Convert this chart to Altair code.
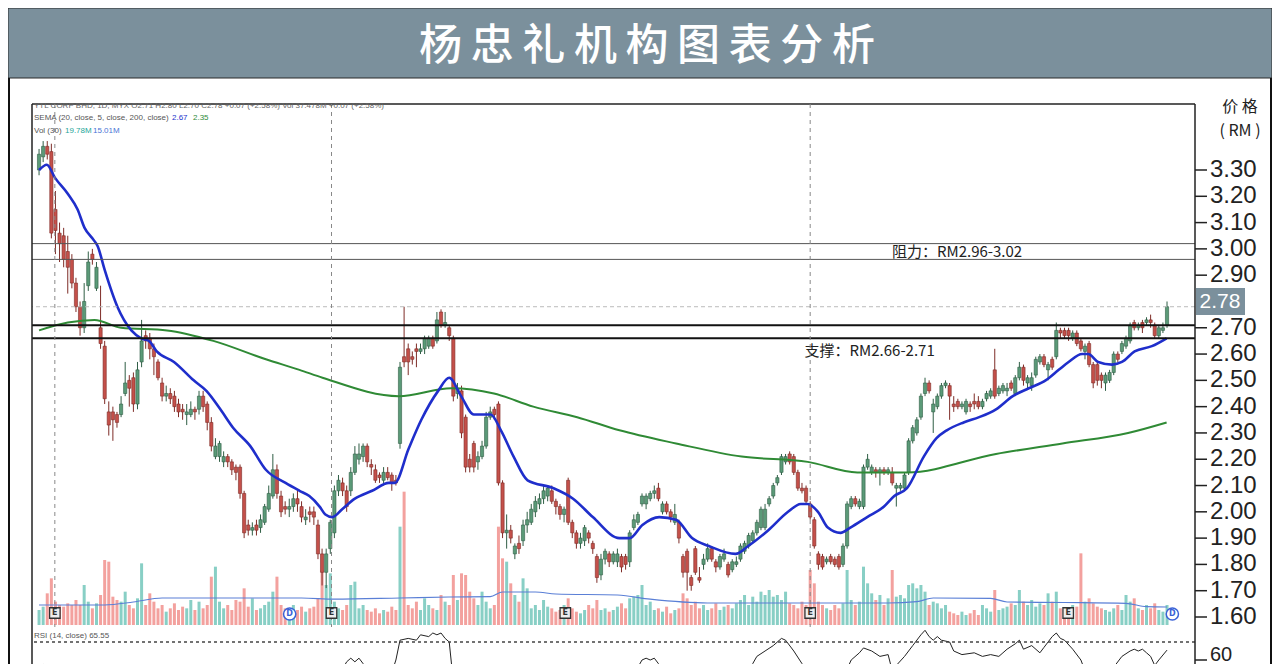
import altair as alt
import pandas as pd

# ---------------- data ----------------
title_text = "杨忠礼机构图表分析"
# 2.80 is hidden under the last-price box in the reference, so it is not listed
price_ticks = [1.6, 1.7, 1.8, 1.9, 2.0, 2.1, 2.2, 2.3, 2.4, 2.5, 2.6, 2.7, 2.9, 3.0, 3.1, 3.2, 3.3]
resistance_levels = [3.02, 2.96]
support_levels = [2.71, 2.66]
last_price = [2.78]

opens = [3.30,3.35,3.39,3.37,3.15,3.06,3.05,2.99,2.96,2.87,
         2.78,2.70,2.86,2.98,2.85,2.70,2.63,2.38,2.38,2.37,
         2.37,2.45,2.50,2.51,2.41,2.57,2.67,2.66,2.62,2.57,
         2.49,2.44,2.45,2.44,2.41,2.39,2.37,2.37,2.39,2.39,
         2.44,2.41,2.34,2.21,2.21,2.19,2.21,2.19,2.17,2.17,
         2.07,1.95,1.93,1.95,1.94,1.96,2.01,2.06,2.16,2.06,
         2.02,2.01,2.02,2.05,2.02,1.97,2.00,2.00,1.95,1.84,
         1.77,1.86,1.92,2.08,2.11,2.08,2.08,2.15,2.20,2.21,
         2.25,2.18,2.16,2.14,2.12,2.15,2.14,2.12,2.26,2.59,
         2.62,2.59,2.62,2.61,2.62,2.63,2.66,2.65,2.76,2.71,
         2.70,2.66,2.45,2.46,2.36,2.20,2.26,2.19,2.21,2.25,
         2.36,2.39,2.41,2.11,1.92,1.93,1.84,1.88,1.89,1.95,
         1.96,2.00,2.03,2.05,2.06,2.08,2.04,2.02,1.99,2.12,
         1.96,1.92,1.88,1.89,1.92,1.88,1.83,1.76,1.82,1.84,
         1.81,1.81,1.83,1.83,1.81,1.94,1.96,2.03,2.03,2.05,
         2.07,2.09,2.00,2.03,2.00,1.96,1.96,1.83,1.85,1.75,
         1.86,1.75,1.80,1.82,1.86,1.81,1.79,1.82,1.80,1.78,
         1.80,1.82,1.85,1.87,1.89,1.92,1.94,1.94,2.03,2.06,
         2.11,2.15,2.19,2.22,2.21,2.15,2.09,2.09,2.03,1.97,
         1.84,1.83,1.81,1.83,1.82,1.83,1.80,1.87,2.02,2.05,
         2.02,2.02,2.17,2.15,2.16,2.15,2.16,2.15,2.15,2.09,
         2.09,2.09,2.15,2.27,2.30,2.36,2.45,2.49,2.38,2.40,
         2.44,2.48,2.48,2.41,2.42,2.40,2.38,2.41,2.42,2.42,
         2.40,2.43,2.44,2.54,2.45,2.46,2.46,2.49,2.45,2.51,
         2.55,2.49,2.48,2.52,2.57,2.59,2.54,2.58,2.59,2.69,
         2.69,2.69,2.66,2.68,2.65,2.61,2.64,2.56,2.56,2.52,
         2.49,2.50,2.53,2.60,2.61,2.63,2.65,2.72,2.70,2.72,
         2.72,2.73,2.71,2.67,2.69,2.71]

highs = [3.38,3.41,3.41,3.40,3.22,3.10,3.08,3.05,2.98,2.89,
         2.80,2.87,2.99,3.00,2.95,2.86,2.65,2.42,2.40,2.38,
         2.44,2.57,2.52,2.53,2.57,2.73,2.69,2.68,2.64,2.58,
         2.51,2.48,2.47,2.46,2.43,2.41,2.41,2.42,2.40,2.46,
         2.46,2.42,2.36,2.28,2.27,2.23,2.22,2.20,2.18,2.18,
         2.08,1.97,1.96,1.97,1.99,2.03,2.10,2.22,2.18,2.08,
         2.04,2.05,2.07,2.08,2.04,2.01,2.02,2.02,1.97,1.86,
         1.86,1.97,2.10,2.14,2.13,2.10,2.17,2.25,2.26,2.26,
         2.26,2.20,2.18,2.15,2.17,2.17,2.15,2.14,2.57,2.78,
         2.64,2.61,2.64,2.64,2.67,2.67,2.67,2.76,2.77,2.76,
         2.71,2.67,2.49,2.48,2.37,2.22,2.27,2.23,2.27,2.38,
         2.40,2.40,2.42,2.12,1.99,1.95,1.88,1.91,1.97,2.00,
         2.03,2.06,2.07,2.10,2.10,2.10,2.05,2.03,2.02,2.13,
         1.97,1.93,1.92,1.95,1.93,1.89,1.84,1.84,1.86,1.85,
         1.85,1.86,1.84,1.84,1.93,1.99,2.00,2.07,2.07,2.08,
         2.10,2.11,2.04,2.04,2.01,2.03,1.97,1.84,1.86,1.76,
         1.87,1.79,1.84,1.88,1.87,1.82,1.84,1.86,1.81,1.82,
         1.83,1.88,1.89,1.92,1.93,1.97,2.02,2.03,2.06,2.11,
         2.14,2.22,2.22,2.23,2.22,2.16,2.11,2.10,2.04,1.98,
         1.85,1.84,1.83,1.84,1.83,1.84,1.88,2.04,2.06,2.06,
         2.05,2.18,2.22,2.18,2.17,2.17,2.17,2.17,2.17,2.11,
         2.11,2.15,2.28,2.33,2.36,2.45,2.51,2.50,2.43,2.45,
         2.49,2.50,2.49,2.44,2.43,2.42,2.43,2.42,2.45,2.44,
         2.43,2.46,2.47,2.62,2.48,2.49,2.49,2.50,2.52,2.57,
         2.56,2.52,2.53,2.59,2.60,2.60,2.57,2.59,2.72,2.70,
         2.70,2.70,2.69,2.69,2.66,2.64,2.65,2.57,2.57,2.53,
         2.53,2.54,2.61,2.61,2.65,2.67,2.72,2.73,2.72,2.73,
         2.74,2.75,2.72,2.71,2.72,2.80]

lows = [3.28,3.33,3.34,3.04,2.98,2.95,2.93,2.83,2.85,2.76,
        2.67,2.68,2.84,2.94,2.84,2.62,2.41,2.29,2.27,2.32,
        2.36,2.44,2.40,2.38,2.39,2.55,2.62,2.58,2.52,2.50,
        2.42,2.42,2.41,2.38,2.36,2.35,2.33,2.36,2.35,2.37,
        2.38,2.31,2.23,2.20,2.19,2.17,2.17,2.14,2.12,2.05,
        1.90,1.91,1.91,1.91,1.92,1.95,2.00,2.05,2.05,1.98,
        1.99,1.98,2.00,2.00,1.96,1.95,1.96,1.95,1.82,1.72,
        1.71,1.84,1.90,2.06,2.06,2.00,2.06,2.14,2.18,2.19,
        2.17,2.14,2.11,2.11,2.10,2.12,2.08,2.10,2.24,2.55,
        2.52,2.56,2.55,2.60,2.60,2.62,2.62,2.64,2.70,2.70,
        2.65,2.42,2.43,2.28,2.15,2.15,2.15,2.16,2.20,2.24,
        2.35,2.35,2.10,1.90,1.86,1.88,1.82,1.84,1.87,1.92,
        1.95,1.98,2.01,2.03,2.04,2.03,1.99,1.97,1.96,1.95,
        1.90,1.86,1.86,1.87,1.88,1.84,1.73,1.74,1.80,1.79,
        1.80,1.79,1.77,1.78,1.79,1.93,1.95,2.02,2.01,2.04,
        2.05,2.04,1.99,1.99,1.96,1.95,1.88,1.75,1.70,1.70,
        1.76,1.73,1.78,1.81,1.81,1.77,1.78,1.81,1.75,1.77,
        1.79,1.81,1.84,1.86,1.88,1.91,1.93,1.93,2.02,2.05,
        2.10,2.14,2.18,2.18,2.14,2.08,2.07,2.03,1.97,1.86,
        1.78,1.78,1.80,1.80,1.79,1.78,1.79,1.86,2.01,2.02,
        2.01,2.01,2.16,2.14,2.13,2.10,2.14,2.14,2.10,2.02,
        2.08,2.08,2.14,2.26,2.29,2.35,2.44,2.45,2.30,2.39,
        2.43,2.47,2.35,2.38,2.39,2.39,2.37,2.38,2.39,2.39,
        2.39,2.42,2.43,2.43,2.44,2.45,2.44,2.46,2.44,2.50,
        2.48,2.47,2.46,2.51,2.56,2.55,2.50,2.54,2.58,2.66,
        2.66,2.65,2.65,2.63,2.61,2.58,2.55,2.47,2.48,2.47,
        2.46,2.49,2.52,2.57,2.60,2.62,2.64,2.69,2.69,2.68,
        2.71,2.70,2.66,2.66,2.68,2.70]

closes = [3.36,3.39,3.36,3.06,3.07,3.02,2.96,2.93,2.87,2.78,
          2.70,2.80,2.95,2.96,2.93,2.64,2.43,2.33,2.35,2.34,
          2.41,2.49,2.47,2.41,2.54,2.65,2.65,2.62,2.59,2.51,
          2.44,2.45,2.43,2.40,2.38,2.38,2.38,2.39,2.38,2.44,
          2.40,2.34,2.25,2.25,2.26,2.21,2.19,2.16,2.15,2.07,
          1.92,1.93,1.94,1.93,1.97,2.02,2.07,2.16,2.07,2.00,
          2.01,2.02,2.05,2.03,1.98,1.98,1.99,1.98,1.84,1.77,
          1.84,1.96,2.08,2.12,2.08,2.02,2.15,2.22,2.22,2.25,
          2.19,2.17,2.12,2.13,2.15,2.13,2.11,2.11,2.55,2.57,
          2.57,2.58,2.61,2.62,2.66,2.66,2.63,2.73,2.71,2.72,
          2.67,2.44,2.47,2.30,2.17,2.17,2.17,2.21,2.25,2.36,
          2.38,2.37,2.11,1.92,1.93,1.90,1.87,1.86,1.95,1.97,
          2.01,2.04,2.05,2.08,2.09,2.04,2.02,1.99,2.01,1.96,
          1.92,1.88,1.90,1.94,1.90,1.86,1.75,1.82,1.85,1.81,
          1.84,1.84,1.79,1.80,1.92,1.97,1.99,2.06,2.06,2.07,
          2.08,2.05,2.03,2.00,1.98,1.99,1.90,1.77,1.77,1.72,
          1.77,1.74,1.82,1.86,1.82,1.79,1.83,1.84,1.76,1.81,
          1.81,1.87,1.88,1.91,1.92,1.96,2.01,2.01,2.05,2.10,
          2.13,2.21,2.21,2.19,2.15,2.09,2.08,2.04,1.98,1.87,
          1.80,1.79,1.82,1.81,1.80,1.79,1.87,2.03,2.05,2.03,
          2.04,2.17,2.20,2.17,2.15,2.16,2.15,2.16,2.11,2.10,
          2.10,2.14,2.27,2.32,2.35,2.44,2.49,2.46,2.41,2.44,
          2.48,2.49,2.44,2.40,2.40,2.41,2.42,2.40,2.41,2.40,
          2.42,2.45,2.46,2.44,2.47,2.48,2.47,2.47,2.51,2.55,
          2.50,2.51,2.51,2.58,2.59,2.56,2.56,2.55,2.69,2.68,
          2.67,2.67,2.68,2.64,2.62,2.63,2.56,2.49,2.50,2.50,
          2.52,2.53,2.60,2.58,2.64,2.66,2.71,2.70,2.71,2.70,
          2.73,2.72,2.67,2.70,2.70,2.78]

volumes = [9,11,19,28,14,12,11,13,12,15,
           12,24,14,10,13,18,39,38,17,15,
           14,20,12,10,16,37,12,19,14,10,
           12,8,10,13,9,11,10,15,9,14,
           10,12,29,35,14,10,12,9,15,14,
           22,11,16,9,10,12,14,20,29,12,
           10,8,12,9,11,8,10,11,16,33,
           24,31,14,10,9,12,24,26,10,12,
           9,8,10,7,9,8,11,9,59,80,
           12,10,14,9,16,12,10,9,18,14,
           12,30,15,31,30,20,16,12,20,14,
           10,12,59,40,38,25,18,14,28,22,
           10,12,9,15,11,10,8,9,12,16,
           10,8,7,9,12,10,15,9,10,8,
           9,11,13,10,16,17,18,24,12,14,
           9,10,8,11,7,9,10,19,16,12,
           14,10,12,9,10,13,9,11,12,10,
           13,15,18,12,17,14,20,18,21,17,
           18,15,20,13,12,10,14,12,33,25,
           14,12,10,9,12,10,13,33,15,12,
           14,35,25,19,15,18,12,16,33,17,
           18,16,24,25,22,24,20,12,14,13,
           10,12,8,7,6,8,6,7,9,6,
           12,10,8,21,9,10,11,13,12,21,
           14,12,15,11,13,12,19,14,20,10,
           9,8,12,11,43,14,16,13,11,10,
           9,8,10,12,9,18,14,16,10,9,
           12,10,13,9,8,12]

ma20_idx = [0,1.9,3.9,7,9.4,11.1,13,14.3,16,19.1,
            22.5,24.9,26.8,28.7,32.9,37.7,40.8,44.2,47.3,51.5,
            55.3,60.1,63.5,65.9,68.4,69.8,71.5,73.9,77,81.2,
            85.3,86.7,90.1,93.2,97.3,100,102.9,106,110.1,112.6,
            115.7,119.1,125.4,130.2,135,141.5,144,147.1,151.2,155.3,
            159.2,163.3,169.8,172.9,177.8,182.6,185.7,187.4,189.9,192.3,
            195.4,197.8,201.9,206,208.5,211.6,215.7,218.8,221.3,225.4,
            229.2,233.3,237.4,241.3,245.4,248.6,251,254.3,255.8,258.2,
            261.6,264,267.1,271.3,274.9]
ma20_val = [3.30,3.32,3.27,3.21,3.15,3.08,3.04,3.01,2.92,2.78,
            2.69,2.66,2.65,2.61,2.57,2.50,2.46,2.39,2.32,2.25,
            2.16,2.11,2.08,2.06,2.02,1.99,1.98,2.01,2.05,2.08,
            2.11,2.11,2.24,2.35,2.46,2.51,2.44,2.37,2.37,2.31,
            2.21,2.12,2.09,2.05,1.98,1.90,1.90,1.95,1.98,1.97,
            1.90,1.87,1.84,1.87,1.93,2.00,2.03,2.03,2.00,1.94,
            1.92,1.94,1.98,2.02,2.06,2.09,2.21,2.28,2.31,2.34,
            2.36,2.39,2.44,2.47,2.50,2.54,2.57,2.60,2.60,2.57,
            2.56,2.57,2.61,2.63,2.66]

ma200_idx = [0,7,13.5,20,31.2,42.5,55.3,63.5,69.1,87.7,100.5,110.9,
             120.5,131.2,141.5,155.3,171.3,187.4,199.5,211.6,233.3,249.5,265.5,274.9]
ma200_val = [2.69,2.72,2.73,2.70,2.69,2.65,2.58,2.54,2.51,2.44,2.47,2.45,
             2.40,2.36,2.31,2.26,2.21,2.19,2.15,2.15,2.22,2.26,2.30,2.34]

volma_idx = [0,16,23,30,64,72,88,100,110,113,121,126,141,149,163,207,214,218,232,236,250,265,270,275]
volma_val = [12,12,13.8,16.2,16.2,15.5,16.2,16.8,17,19.8,19.8,18.6,18,15.5,13.2,13.2,14,16.2,16,13.8,13.5,13,11,10.8]

rsi_idx = [0,1,2,3,10,16,25,30,42,50,
           57,60,69,71,72,73,74,75,76,77,
           78,79,80,81,83,84,86,87,88,90,
           92,93,95,96,97,98,99,100,101,104,
           110,113,120,125,130,136,140,144,146,147,
           148,149,150,151,152,155,160,170,173,174,
           175,177,179,181,182,184,186,187,190,195,
           197,198,200,201,203,205,207,208,209,211,
           213,215,216,217,218,219,220,222,223,225,
           228,230,232,234,235,236,238,239,240,242,
           244,245,247,248,249,250,252,254,255,257,
           260,262,264,266,267,268,269,270,271,272,
           273,275]
rsi_val = [56,57.5,55,35,28,22,45,40,30,25,
           45,40,30,50,54,53,55,59,61,59,
           61,58,55,54,56,55,53,60,71,72,
           71,74,73,75,74,75,72,70,48,35,
           45,30,45,50,38,30,40,50,56,60,
           61,60,61,58,54,45,33,40,54,58,
           62,65,68,72,71,65,58,53,35,42,
           55,60,64,66.7,65,62,63,54,57,62,
           68,74,76.5,73,71,73,71,70,65,63,
           64,62,63,62,64,66,69,71,66,68,
           64,67,73,75,72,71,66,60,54,45,
           50,56,62,65,66,65,66,64,62,57,
           60,65.5]

earnings_idx = [3.85, 71.3, 128.3, 188.0, 250.9]
dividend_idx = [61.1, 276.3]
event_line_idx = [3.85, 71.3, 188.0]

resistance_label = "阻力：RM2.96-3.02"
support_label = "支撑：RM2.66-2.71"
label_pos_idx = [223.8, 202.5]
label_pos_price = [2.99, 2.612]

# ---------------- tables ----------------
candles = pd.DataFrame({"i": list(range(len(closes))), "open": opens, "high": highs,
                        "low": lows, "close": closes, "vol": volumes})
ma20 = pd.DataFrame({"i": ma20_idx, "v": ma20_val})
ma200 = pd.DataFrame({"i": ma200_idx, "v": ma200_val})
volma = pd.DataFrame({"i": volma_idx, "v": volma_val})
rsi = pd.DataFrame({"i": rsi_idx, "v": rsi_val})
one = pd.DataFrame({"k": [0]})

W, H = 1163, 560
UP, DOWN = "#5b9a78", "#c4504a"
UP_D, DOWN_D = "#2f5e45", "#7e2c27"
CJK = "Noto Sans CJK SC"

xs = alt.Scale(domain=[-0.5, 280.6], nice=False, zero=False)
X = alt.X("i:Q", scale=xs, axis=None)
ps = alt.Scale(domain=[1.60, 3.30], range=[513, 66], nice=False, zero=False)
vs = alt.Scale(domain=[0, 60], range=[521, 421], nice=False, zero=False)
rs = alt.Scale(domain=[0, 100], range=[664, 484], nice=False, zero=False)
up_cond = "datum.close >= datum.open"

# ---------------- volume panel ----------------
vol_bars = alt.Chart(candles).mark_bar(size=3).encode(
    x=X, y=alt.Y("vol:Q", scale=vs, axis=None),
    color=alt.condition(up_cond, alt.value("#88cfc5"), alt.value("#f3a19e")))
vol_line = alt.Chart(volma).mark_line(strokeWidth=1.2, color="#5a7fd6", interpolate="monotone").encode(
    x=X, y=alt.Y("v:Q", scale=vs, axis=None))
vol = alt.layer(vol_bars, vol_line)

# ---------------- price panel ----------------
wick = alt.Chart(candles).mark_rule(strokeWidth=1).encode(
    x=X, y=alt.Y("low:Q", scale=ps, axis=None), y2="high:Q",
    color=alt.condition(up_cond, alt.value(UP_D), alt.value(DOWN_D)))
body = alt.Chart(candles).mark_bar(size=3.2, strokeWidth=0.6).encode(
    x=X, y=alt.Y("open:Q", scale=ps, axis=None), y2="close:Q",
    fill=alt.condition(up_cond, alt.value(UP), alt.value(DOWN)),
    stroke=alt.condition(up_cond, alt.value(UP_D), alt.value(DOWN_D)))
l200 = alt.Chart(ma200).mark_line(strokeWidth=2, color="#2f8a35", interpolate="monotone").encode(
    x=X, y=alt.Y("v:Q", scale=ps, axis=None))
l20 = alt.Chart(ma20).mark_line(strokeWidth=2.6, color="#1f2ecb", interpolate="monotone").encode(
    x=X, y=alt.Y("v:Q", scale=ps, axis=None))
res_rules = alt.Chart(pd.DataFrame({"level": resistance_levels})).mark_rule(
    strokeWidth=1, color="#555").encode(y=alt.Y("level:Q", scale=ps, axis=None))
sup_rules = alt.Chart(pd.DataFrame({"level": support_levels})).mark_rule(
    strokeWidth=2, color="#111").encode(y=alt.Y("level:Q", scale=ps, axis=None))
last_rule = alt.Chart(pd.DataFrame({"level": last_price})).mark_rule(
    strokeWidth=1, color="#bbbbbb", strokeDash=[4, 3]).encode(y=alt.Y("level:Q", scale=ps, axis=None))
labels = alt.Chart(pd.DataFrame({"i": label_pos_idx, "p": label_pos_price,
                                 "t": [resistance_label, support_label]})).mark_text(
    font=CJK, fontSize=15, color="#222", align="center", baseline="middle").encode(
    x=X, y=alt.Y("p:Q", scale=ps, axis=None), text="t:N")
tick_df = pd.DataFrame({"p": price_ticks})
axis_ticks = alt.Chart(tick_df).mark_rule(color="#222", strokeWidth=1.5).encode(
    x=alt.value(W), x2=alt.value(W + 12), y=alt.Y("p:Q", scale=ps, axis=None))
axis_labels = alt.Chart(tick_df).mark_text(
    font="Liberation Sans", fontSize=24, color="#222", align="left", baseline="middle").encode(
    x=alt.value(W + 15), y=alt.Y("p:Q", scale=ps, axis=None), text=alt.Text("p:Q", format=".2f"))
last_box = alt.Chart(one).mark_rect(color="#7b909c").encode(
    x=alt.value(1164), x2=alt.value(1213), y=alt.value(184), y2=alt.value(211))
last_text = alt.Chart(pd.DataFrame({"t": ["2.78"]})).mark_text(
    font="Liberation Sans", fontSize=21, color="white", align="center", baseline="middle").encode(
    x=alt.value(1188), y=alt.value(198), text="t:N")
price = alt.layer(wick, body, l200, l20, res_rules, sup_rules, last_rule, labels,
                  axis_ticks, axis_labels, last_box, last_text)

# ---------------- RSI panel ----------------
rsi_line = alt.Chart(rsi).mark_line(strokeWidth=1, color="#222", clip=True).encode(
    x=X, y=alt.Y("v:Q", scale=rs, axis=None))
rsi_70 = alt.Chart(one).mark_rule(strokeWidth=1.6, color="#444", strokeDash=[3, 3]).encode(
    y=alt.Y(datum=70, scale=rs, axis=None))
rsi_tick = alt.Chart(one).mark_rule(strokeWidth=1.5, color="#222").encode(
    x=alt.value(W), x2=alt.value(W + 12), y=alt.Y(datum=60, scale=rs, axis=None))
rsi_lab = alt.Chart(one).mark_text(text="60", font="Liberation Sans", fontSize=20, color="#222",
                                   align="left", baseline="middle", dy=-5).encode(
    x=alt.value(W + 15), y=alt.Y(datum=60, scale=rs, axis=None))
rsi_panel = alt.layer(rsi_line, rsi_70, rsi_tick, rsi_lab)

# ---------------- decorations ----------------
banner = alt.Chart(one).mark_rect(color="#7b909c", stroke="#2b2b2b", strokeWidth=1).encode(
    x=alt.value(-24), x2=alt.value(1240), y=alt.value(-96), y2=alt.value(-26))
title = alt.Chart(one).mark_text(text="\u2009".join(title_text), font=CJK, fontSize=43,
                                 fontWeight=500, color="white", align="center",
                                 baseline="middle").encode(x=alt.value(615), y=alt.value(-57))
frame = [
    alt.Chart(one).mark_rule(color="#222", strokeWidth=1.5).encode(
        x=alt.value(0), x2=alt.value(W), y=alt.value(0)),
    alt.Chart(one).mark_rule(color="#222", strokeWidth=1.5).encode(
        x=alt.value(0), y=alt.value(0), y2=alt.value(H)),
    alt.Chart(one).mark_rule(color="#222", strokeWidth=1.5).encode(
        x=alt.value(W), y=alt.value(0), y2=alt.value(H)),
    alt.Chart(one).mark_rule(color="#111", strokeWidth=2).encode(
        x=alt.value(-23), y=alt.value(-26), y2=alt.value(H)),
    alt.Chart(one).mark_rule(color="#111", strokeWidth=2).encode(
        x=alt.value(1239), y=alt.value(-26), y2=alt.value(H)),
]
unit_texts = alt.Chart(pd.DataFrame({"t": ["价 格", "( RM )"], "y": [3, 27]})).mark_text(
    font=CJK, fontSize=16, color="#222", align="center", baseline="middle").encode(
    x=alt.value(1208), y=alt.Y("y:Q", scale=None), text="t:N")
event_lines = alt.Chart(pd.DataFrame({"i": event_line_idx})).mark_rule(
    color="#888", strokeWidth=1, strokeDash=[4, 4]).encode(x=X, y=alt.value(0), y2=alt.value(523))
e_box = alt.Chart(pd.DataFrame({"i": earnings_idx})).mark_point(
    shape="square", size=110, filled=True, fill="#eeeeee", stroke="#333", strokeWidth=1.3,
    opacity=1).encode(x=X, y=alt.value(509))
e_txt = alt.Chart(pd.DataFrame({"i": earnings_idx})).mark_text(
    text="E", fontSize=8, font="DejaVu Sans", fontWeight="bold", color="#333",
    baseline="middle").encode(x=X, y=alt.value(509))
d_c = alt.Chart(pd.DataFrame({"i": dividend_idx})).mark_point(
    shape="circle", size=150, filled=True, fill="white", stroke="#3b62d6", strokeWidth=1.5,
    opacity=1).encode(x=X, y=alt.value(510))
d_txt = alt.Chart(pd.DataFrame({"i": dividend_idx})).mark_text(
    text="D", fontSize=8, font="DejaVu Sans", fontWeight="bold", color="#3b62d6",
    baseline="middle").encode(x=X, y=alt.value(510))

leg = pd.DataFrame({
    "t": ["YTL CORP BHD, 1D, MYX   O2.71  H2.80  L2.70  C2.78  +0.07 (+2.58%)   Vol 37.478M  +0.07 (+2.58%)",
          "SEMA (20, close, 5, close, 200, close)", "2.67", "2.35",
          "Vol (30)", "19.78M", "15.01M", "RSI (14, close) 65.55"],
    "x": [2, 2, 140, 161, 2, 33, 61, 2],
    "y": [2, 14, 14, 14, 27, 27, 27, 532],
    "c": ["#666", "#555", "#2233cc", "#2e8b3a", "#555", "#26a69a", "#4a74d6", "#555"],
})
leg_text = alt.Chart(leg).mark_text(font="Liberation Sans", fontSize=8, align="left",
                                    baseline="middle").encode(
    x=alt.X("x:Q", scale=None), y=alt.Y("y:Q", scale=None), text="t:N",
    color=alt.Color("c:N", scale=None))

deco = alt.layer(banner, title, *frame, unit_texts, event_lines, e_box, e_txt, d_c, d_txt, leg_text)

chart = alt.layer(vol, price, rsi_panel, deco).resolve_scale(y="independent").properties(
    width=W, height=H,
    autosize=alt.AutoSizeParams(type="none"),
    padding={"left": 24, "top": 96, "right": 77, "bottom": 0},
    background="white",
).configure_view(stroke=None)

chart.save("out.html", embed_options={"renderer": "svg", "actions": False})
